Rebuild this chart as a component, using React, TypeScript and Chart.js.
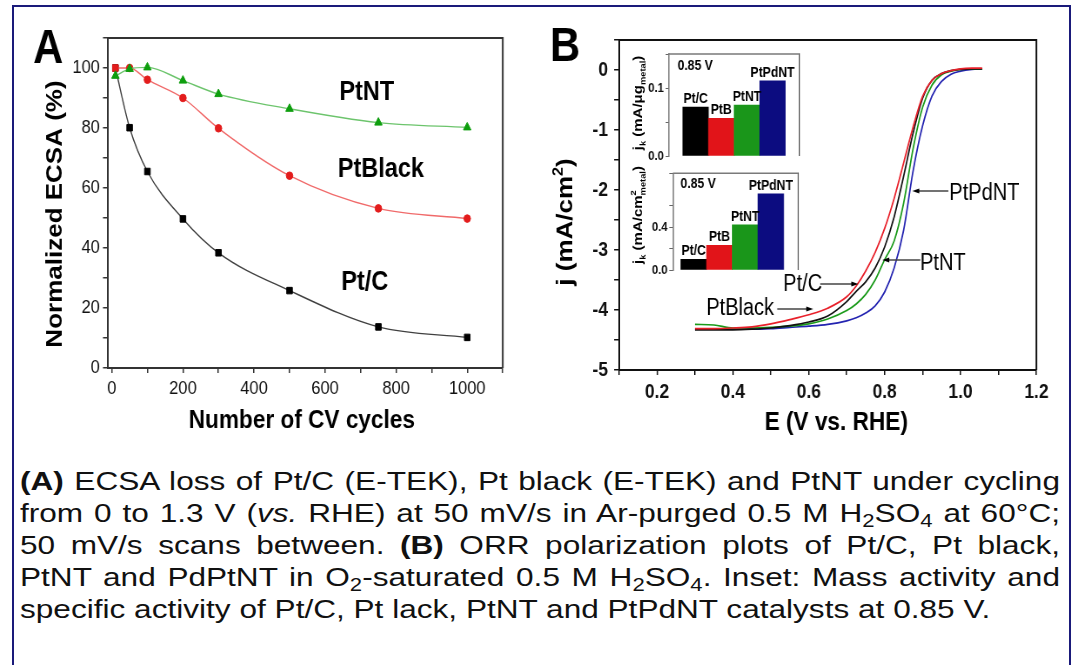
import React, { useEffect, useRef } from 'react';
import { Chart, registerables } from 'chart.js';

Chart.register(...registerables);

const FONT = "'Liberation Sans', Arial, Helvetica, sans-serif";
const S = 0.87; // horizontal squeeze of the figure drawings

// ---------------- Panel A data ----------------
const cycles = [10, 50, 100, 200, 300, 500, 750, 1000];
const ecsaPtC = [100, 80.1, 65.5, 49.7, 38.4, 25.8, 13.7, 10.2];
const ecsaPtBlack = [100, 100, 96.1, 90.0, 79.9, 64.1, 53.2, 49.8];
const ecsaPtNT = [97.4, 99.7, 100.2, 95.8, 91.3, 86.4, 81.8, 80.2];
const namesA = ['PtNT', 'PtBlack', 'Pt/C'];

// ---------------- Panel B data ----------------
const potential = [0.30, 0.35, 0.40, 0.45, 0.50, 0.55, 0.60, 0.65, 0.70, 0.725, 0.75, 0.775, 0.80, 0.825, 0.85, 0.875, 0.90, 0.925, 0.95, 0.975, 1.00, 1.03, 1.057];
const jPtBlack = [-4.31, -4.31, -4.30, -4.28, -4.23, -4.16, -4.08, -3.97, -3.78, -3.60, -3.35, -3.04, -2.64, -2.14, -1.55, -0.95, -0.44, -0.17, -0.06, -0.01, 0.02, 0.03, 0.03];
const jPtC = [-4.33, -4.33, -4.33, -4.32, -4.30, -4.26, -4.20, -4.10, -3.86, -3.69, -3.53, -3.30, -2.95, -2.45, -1.77, -1.05, -0.47, -0.17, -0.06, -0.01, 0.01, 0.02, 0.02];
const jPtNT = [-4.24, -4.25, -4.30, -4.30, -4.29, -4.27, -4.23, -4.15, -4.01, -3.90, -3.74, -3.50, -3.16, -2.85, -2.22, -1.31, -0.62, -0.25, -0.08, -0.02, 0.01, 0.02, 0.02];
const jPtPdNT = [-4.32, -4.32, -4.32, -4.32, -4.31, -4.29, -4.27, -4.24, -4.18, -4.13, -4.05, -3.93, -3.70, -3.30, -2.67, -1.68, -0.93, -0.43, -0.19, -0.07, -0.02, 0.01, 0.02];
const namesB = ['PtPdNT', 'PtNT', 'Pt/C', 'PtBlack'];

// ---------------- Inset data ----------------
const insetCategories = ['Pt/C', 'PtB', 'PtNT', 'PtPdNT'];
const massActivity = [0.073, 0.056, 0.076, 0.112];
const specificActivity = [0.10, 0.23, 0.42, 0.71];
const insetVoltage = '0.85 V';

// ---------------- styling / layout (display px) ----------------
const BAR_COLORS = ['#000000', '#e11419', '#1a961a', '#0c0c80'];
const CANVAS_A = { left: 0, top: 0, w: 540, h: 445 };
const BOX_A = { left: 108, right: 503, top: 38, bottom: 368 };
const CANVAS_B = { left: 540, top: 0, w: 532, h: 445 };
const BOX_B = { left: 619, right: 1036, top: 40, bottom: 370 };

type Part = { t: string; s?: number; dy?: number; hold?: boolean };

function rich(ctx: CanvasRenderingContext2D, parts: Part[], size: number, weight: string, cx: number, cy: number, rot: number) {
  ctx.save();
  ctx.translate(cx, cy);
  ctx.rotate(rot);
  ctx.textAlign = 'left';
  ctx.textBaseline = 'alphabetic';
  let total = 0;
  const widths = parts.map((p) => {
    ctx.font = `${weight} ${size * (p.s ?? 1)}px ${FONT}`;
    const w = ctx.measureText(p.t).width;
    if (!p.hold) total += w;
    return w;
  });
  let x = -total / 2;
  parts.forEach((p, i) => {
    ctx.font = `${weight} ${size * (p.s ?? 1)}px ${FONT}`;
    ctx.fillText(p.t, x, size * 0.36 + (p.dy ?? 0) * size);
    if (!p.hold) x += widths[i];
  });
  ctx.restore();
}

function label(ctx: CanvasRenderingContext2D, t: string, x: number, y: number, size: number, weight = 'normal', align: CanvasTextAlign = 'center') {
  ctx.save();
  ctx.font = `${weight} ${size}px ${FONT}`;
  ctx.textAlign = align;
  ctx.textBaseline = 'alphabetic';
  ctx.fillStyle = '#000';
  ctx.fillText(t, x, y + size * 0.36);
  ctx.restore();
}

function arrow(ctx: CanvasRenderingContext2D, x1: number, x2: number, y: number) {
  const dir = Math.sign(x2 - x1);
  ctx.save();
  ctx.strokeStyle = '#444';
  ctx.lineWidth = 1.3;
  ctx.beginPath();
  ctx.moveTo(x1, y);
  ctx.lineTo(x2 - dir * 5, y);
  ctx.stroke();
  ctx.fillStyle = '#000';
  ctx.beginPath();
  ctx.moveTo(x2, y);
  ctx.lineTo(x2 - dir * 8, y - 2.6);
  ctx.lineTo(x2 - dir * 8, y + 2.6);
  ctx.closePath();
  ctx.fill();
  ctx.restore();
}

function frame(ctx: CanvasRenderingContext2D, ca: any, color: string, w: number) {
  ctx.save();
  ctx.strokeStyle = color;
  ctx.lineWidth = w;
  ctx.beginPath();
  ctx.moveTo(ca.left, ca.top);
  ctx.lineTo(ca.right, ca.top);
  ctx.lineTo(ca.right, ca.bottom);
  ctx.stroke();
  ctx.restore();
}

function panelAConfig(): any {
  const Lw = Math.round(CANVAS_A.w / S);
  const lx = (d: number) => (d - CANVAS_A.left) / S;
  const tickFont = { family: FONT, size: 19 };
  const mk = (vals: number[]) => cycles.map((x, i) => ({ x, y: vals[i] }));
  return {
    type: 'line',
    data: {
      datasets: [
        { label: namesA[0], data: mk(ecsaPtNT), borderColor: '#6cc46c', borderWidth: 1.4, pointStyle: 'triangle', pointRadius: 5, pointBackgroundColor: '#0e9e0e', pointBorderColor: '#0e9e0e', pointBorderWidth: 1, cubicInterpolationMode: 'monotone' },
        { label: namesA[1], data: mk(ecsaPtBlack), borderColor: '#f06a6a', borderWidth: 1.4, pointStyle: ecsaPtBlack.map((_, i) => (i === 0 ? 'rect' : 'circle')), pointRadius: ecsaPtBlack.map((_, i) => (i === 0 ? 4.6 : 3.8)), pointBackgroundColor: '#e31c1c', pointBorderColor: '#e31c1c', pointBorderWidth: 1, cubicInterpolationMode: 'monotone' },
        { label: namesA[2], data: mk(ecsaPtC), borderColor: '#404040', borderWidth: 1.4, pointStyle: 'rect', pointRadius: 4.6, pointBackgroundColor: '#000', pointBorderColor: '#000', pointBorderWidth: 1, cubicInterpolationMode: 'monotone' },
      ],
    },
    options: {
      responsive: false, animation: false, devicePixelRatio: 1,
      layout: { padding: { left: 0, top: BOX_A.top - CANVAS_A.top, right: Lw - lx(BOX_A.right), bottom: 0 } },
      plugins: { legend: { display: false }, tooltip: { enabled: false } },
      scales: {
        x: {
          type: 'linear', min: -11, max: 1100,
          ticks: { stepSize: 100, includeBounds: false, autoSkip: false, maxRotation: 0, font: tickFont, color: '#111', padding: 4,
            callback: (v: number) => (v % 200 === 0 && v <= 1000 ? String(v) : '') },
          grid: { drawOnChartArea: false, tickLength: 5, color: '#333', lineWidth: 1.5 },
          border: { color: '#333', width: 2 },
          afterFit: (s: any) => { s.height = CANVAS_A.top + CANVAS_A.h - BOX_A.bottom; s.paddingLeft = 0; s.paddingRight = 0; },
        },
        y: {
          min: 0, max: 110,
          ticks: { stepSize: 10, autoSkip: false, font: tickFont, color: '#111', padding: 3.5,
            callback: (v: number) => (v % 20 === 0 && v <= 100 ? String(v) : '') },
          grid: { drawOnChartArea: false, tickLength: 5.7, color: '#333', lineWidth: 1.5 },
          border: { color: '#333', width: 2 },
          afterFit: (s: any) => { s.width = lx(BOX_A.left); s.paddingTop = 0; s.paddingBottom = 0; },
        },
      },
    },
    plugins: [{
      id: 'panelA',
      afterDraw(chart: any) {
        const ctx = chart.ctx;
        frame(ctx, chart.chartArea, '#333', 2);
        ctx.save();
        ctx.fillStyle = '#000';
        ctx.font = `bold 48px ${FONT}`;
        ctx.textAlign = 'left';
        ctx.textBaseline = 'alphabetic';
        ctx.fillText('A', lx(33), 63);
        ctx.restore();
        rich(ctx, [{ t: 'Normalized ECSA (%)' }], 26, 'bold', lx(54), 214, -Math.PI / 2);
        label(ctx, 'Number of CV cycles', lx(302), 419, 26, 'bold');
        label(ctx, namesA[0], lx(367), 90, 27, 'bold');
        label(ctx, namesA[1], lx(381), 167, 27, 'bold');
        label(ctx, namesA[2], lx(365), 280, 27, 'bold');
      },
    }],
  };
}

function panelBConfig(): any {
  const Lw = Math.round(CANVAS_B.w / S);
  const lx = (d: number) => (d - CANVAS_B.left) / S;
  const tickFont = { family: FONT, size: 20, weight: 'bold' };
  const mk = (vals: number[]) => potential.map((x, i) => ({ x, y: vals[i] }));
  const line = (name: string, vals: number[], color: string) => ({ label: name, data: mk(vals), borderColor: color, borderWidth: 1.7, pointRadius: 0, cubicInterpolationMode: 'monotone' });
  return {
    type: 'line',
    data: {
      datasets: [
        line(namesB[3], jPtBlack, '#e8202a'),
        line(namesB[2], jPtC, '#111111'),
        line(namesB[1], jPtNT, '#1a9a1a'),
        line(namesB[0], jPtPdNT, '#2323b0'),
      ],
    },
    options: {
      responsive: false, animation: false, devicePixelRatio: 1,
      layout: { padding: { left: 0, top: BOX_B.top - CANVAS_B.top, right: Lw - lx(BOX_B.right), bottom: 0 } },
      plugins: { legend: { display: false }, tooltip: { enabled: false } },
      scales: {
        x: {
          type: 'linear', min: 0.1, max: 1.2,
          ticks: { stepSize: 0.1, autoSkip: false, maxRotation: 0, font: tickFont, color: '#111', padding: 5,
            callback: (v: number) => { const k = Math.round(v * 10); return k % 2 === 0 ? (k / 10).toFixed(1) : ''; } },
          grid: { drawOnChartArea: false, tickLength: 5, color: '#111', lineWidth: 1.5 },
          border: { color: '#111', width: 2 },
          afterFit: (s: any) => { s.height = CANVAS_B.top + CANVAS_B.h - BOX_B.bottom; s.paddingLeft = 0; s.paddingRight = 0; },
        },
        y: {
          min: -5, max: 0.5,
          ticks: { stepSize: 0.5, autoSkip: false, font: tickFont, color: '#111', padding: 7,
            callback: (v: number) => (Math.abs(v - Math.round(v)) < 1e-6 ? String(Math.round(v) || 0) : '') },
          grid: { drawOnChartArea: false, tickLength: 5.7, color: '#111', lineWidth: 1.5 },
          border: { color: '#111', width: 2 },
          afterFit: (s: any) => { s.width = lx(BOX_B.left); s.paddingTop = 0; s.paddingBottom = 0; },
        },
      },
    },
    plugins: [{
      id: 'panelB',
      afterDraw(chart: any) {
        const ctx = chart.ctx;
        frame(ctx, chart.chartArea, '#111', 2);
        ctx.save();
        ctx.fillStyle = '#000';
        ctx.font = `bold 48px ${FONT}`;
        ctx.textAlign = 'left';
        ctx.textBaseline = 'alphabetic';
        ctx.fillText('B', lx(550), 61);
        ctx.restore();
        rich(ctx, [{ t: 'j (mA/cm' }, { t: '2', s: 0.62, dy: -0.42 }, { t: ')' }], 26, 'bold', lx(564), 222, -Math.PI / 2);
        label(ctx, 'E (V vs. RHE)', lx(836), 421, 26, 'bold');
        label(ctx, namesB[0], lx(984), 192, 23);
        label(ctx, namesB[1], lx(942.5), 262, 23);
        label(ctx, namesB[2], lx(802.5), 283, 23);
        label(ctx, namesB[3], lx(740), 307, 23);
        arrow(ctx, lx(948), lx(912), 191);
        arrow(ctx, lx(920), lx(882), 260);
        arrow(ctx, lx(820), lx(858), 284);
        arrow(ctx, lx(777), lx(813), 309);
      },
    }],
  };
}

const INSET1 = {
  canvas: { left: 622, top: 46, w: 184, h: 116 },
  box: { left: 669, right: 799, top: 54, bottom: 156 },
  values: massActivity, yMax: 0.152, yStep: 0.05, labelStep: 0.1, xMin: -0.035, xMax: 5.05,
  title: [{ t: 'j' }, { t: 'k', s: 0.62, dy: 0.28 }, { t: ' (mA/\u03bcg' }, { t: 'metal', s: 0.62, dy: 0.28 }, { t: ')' }] as Part[],
  titleCenter: [637, 103], voltageCenter: [695, 65],
};
const INSET2 = {
  canvas: { left: 622, top: 165, w: 184, h: 112 },
  box: { left: 672.7, right: 798, top: 173.3, bottom: 270 },
  values: specificActivity, yMax: 0.9, yStep: 0.2, labelStep: 0.4, xMin: 0.19, xMax: 5.07,
  title: [{ t: 'j' }, { t: 'k', s: 0.62, dy: 0.28 }, { t: ' (mA/cm' }, { t: '2', s: 0.62, dy: -0.42, hold: true }, { t: 'metal', s: 0.62, dy: 0.28 }, { t: ')' }] as Part[],
  titleCenter: [637, 215], voltageCenter: [698, 183],
};

function insetConfig(spec: any): any {
  const { canvas, box } = spec;
  const Lw = Math.round(canvas.w / S);
  const lx = (d: number) => (d - canvas.left) / S;
  const ly = (d: number) => d - canvas.top;
  return {
    type: 'bar',
    data: {
      datasets: [{
        label: 'activity',
        data: spec.values.map((v: number, i: number) => ({ x: i + 1, y: v })),
        backgroundColor: BAR_COLORS, borderWidth: 0, barPercentage: 1, categoryPercentage: 1,
      }],
    },
    options: {
      responsive: false, animation: false, devicePixelRatio: 1,
      layout: { padding: { left: 0, top: box.top - canvas.top, right: Lw - lx(box.right), bottom: canvas.top + canvas.h - box.bottom } },
      plugins: { legend: { display: false }, tooltip: { enabled: false } },
      scales: {
        x: { type: 'linear', min: spec.xMin, max: spec.xMax, display: false, offset: false },
        y: {
          min: 0, max: spec.yMax,
          ticks: { stepSize: spec.yStep, autoSkip: false, font: { family: FONT, size: 13, weight: 'bold' }, color: '#111', padding: 2,
            callback: (v: number) => { const r = v / spec.labelStep; return Math.abs(r - Math.round(r)) < 1e-6 ? v.toFixed(1) : ''; } },
          grid: { drawOnChartArea: false, tickLength: 4, color: '#666', lineWidth: 1 },
          border: { color: '#7a7a7a', width: 1.5 },
          afterFit: (s: any) => { s.width = lx(box.left); s.paddingTop = 0; s.paddingBottom = 0; },
        },
      },
    },
    plugins: [{
      id: 'inset',
      beforeDraw(chart: any) {
        const { ctx, chartArea: ca } = chart;
        ctx.save();
        ctx.fillStyle = '#fff';
        ctx.fillRect(ca.left, ca.top, ca.right - ca.left, ca.bottom - ca.top);
        ctx.restore();
      },
      afterDraw(chart: any) {
        const { ctx, chartArea: ca } = chart;
        frame(ctx, ca, '#7a7a7a', 1.5);
        const meta = chart.getDatasetMeta(0);
        meta.data.forEach((el: any, i: number) => {
          ctx.save();
          ctx.font = `bold 14px ${FONT}`;
          ctx.textAlign = 'center';
          ctx.textBaseline = 'alphabetic';
          ctx.fillStyle = '#000';
          ctx.fillText(insetCategories[i], el.x, el.y - 4);
          ctx.restore();
        });
        label(ctx, insetVoltage, lx(spec.voltageCenter[0]), ly(spec.voltageCenter[1]), 14, 'bold');
        rich(ctx, spec.title, 15, 'bold', lx(spec.titleCenter[0]), ly(spec.titleCenter[1]), -Math.PI / 2);
      },
    }],
  };
}

function ChartCanvas({ c, cref }: any) {
  const Lw = Math.round(c.w / S);
  return (
    <canvas
      ref={cref}
      width={Lw}
      height={c.h}
      style={{ position: 'absolute', left: c.left, top: c.top, width: `${Lw * S}px`, height: `${c.h}px` }}
    />
  );
}

const capStyle: any = {
  position: 'absolute', left: 20, fontSize: 26, lineHeight: '32px', fontFamily: FONT, color: '#111',
  transformOrigin: '0 0', transform: 'scaleX(1.215)', width: 1040 / 1.215,
};

export default function App() {
  const aRef = useRef<HTMLCanvasElement>(null);
  const bRef = useRef<HTMLCanvasElement>(null);
  const i1Ref = useRef<HTMLCanvasElement>(null);
  const i2Ref = useRef<HTMLCanvasElement>(null);

  useEffect(() => {
    const charts = [
      new Chart(aRef.current as HTMLCanvasElement, panelAConfig()),
      new Chart(bRef.current as HTMLCanvasElement, panelBConfig()),
      new Chart(i1Ref.current as HTMLCanvasElement, insetConfig(INSET1)),
      new Chart(i2Ref.current as HTMLCanvasElement, insetConfig(INSET2)),
    ];
    return () => charts.forEach((c) => c.destroy());
  }, []);

  const sub = (t: string) => <sub style={{ fontSize: '0.7em', verticalAlign: '-0.25em', lineHeight: 0 }}>{t}</sub>;
  const just: any = { ...capStyle, textAlign: 'justify', textAlignLast: 'justify' };

  return (
    <div style={{ position: 'fixed', left: 0, top: 0, width: 1072, height: 665, background: '#fff', overflow: 'hidden' }}>
      <div style={{ position: 'absolute', left: 12, top: 5, width: 1059, height: 720, boxSizing: 'border-box', border: '2px solid #1a1a7a', borderBottom: 'none' }} />
      <ChartCanvas c={CANVAS_A} cref={aRef} />
      <ChartCanvas c={CANVAS_B} cref={bRef} />
      <ChartCanvas c={INSET1.canvas} cref={i1Ref} />
      <ChartCanvas c={INSET2.canvas} cref={i2Ref} />
      <div style={{ ...just, top: 465 }}><b>(A)</b> ECSA loss of Pt/C (E-TEK), Pt black (E-TEK) and PtNT under cycling</div>
      <div style={{ ...just, top: 497 }}>from 0 to 1.3 V (<i>vs.</i> RHE) at 50 mV/s in Ar-purged 0.5 M H{sub('2')}SO{sub('4')} at 60°C;</div>
      <div style={{ ...just, top: 529 }}>50 mV/s scans between. <b>(B)</b> ORR polarization plots of Pt/C, Pt black,</div>
      <div style={{ ...just, top: 561 }}>PtNT and PdPtNT in O{sub('2')}-saturated 0.5 M H{sub('2')}SO{sub('4')}. Inset: Mass activity and</div>
      <div style={{ ...capStyle, top: 593 }}>specific activity of Pt/C, Pt lack, PtNT and PtPdNT catalysts at 0.85 V.</div>
    </div>
  );
}
